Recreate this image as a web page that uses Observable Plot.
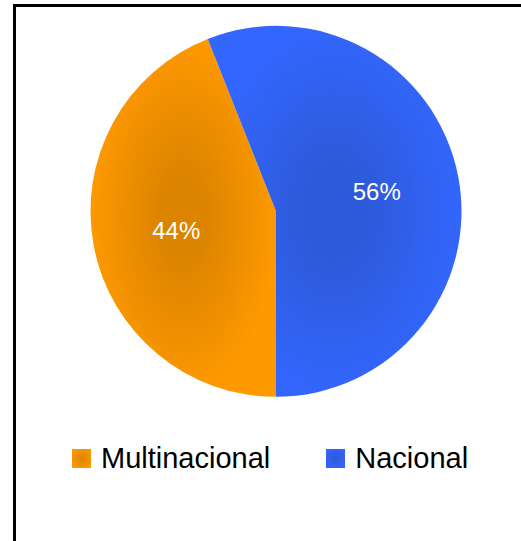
<!DOCTYPE html>
<html>
<head>
<meta charset="utf-8">
<script src="https://cdn.jsdelivr.net/npm/d3@7"></script>
<script src="https://cdn.jsdelivr.net/npm/@observablehq/plot@0.6"></script>
<style>
  html, body { margin: 0; padding: 0; background: #fff; }
  #wrap { position: relative; width: 521px; height: 541px; overflow: hidden; background: #fff; }
  #frame { position: absolute; left: 13px; top: 4px; width: 700px; height: 700px; border: 3px solid #000; box-sizing: border-box; }
  #chart { position: absolute; left: 0; top: 0; }
  #legend { position: absolute; left: 72px; top: 444px; display: flex; align-items: flex-start;
            font-family: "Liberation Sans", Arial, sans-serif; font-size: 29px; line-height: 29px; color: #000; }
  .item { display: flex; align-items: flex-start; }
  .sw { width: 19px; height: 19px; margin-top: 5px; margin-right: 10px; }
</style>
</head>
<body>
<div id="wrap">
  <div id="frame"></div>
  <div id="chart"></div>
  <div id="legend"></div>
</div>
<script>
const categories = ["Multinacional", "Nacional"];
const values = [44, 56];
const labels = ["44%", "56%"];
const colors = ["#ff9900", "#3366ff"];
const centerColors = ["#dc8400", "#2d5ad8"];

const pie = d3.pie().sort(null).startAngle(Math.PI).endAngle(3 * Math.PI)(values);
const unitArc = d3.arc().innerRadius(0).outerRadius(1.1);
const table = categories.map((c, i) => {
  const [cx, cy] = unitArc.centroid(pie[i]);
  return {category: c, value: values[i], label: labels[i], x: cx, y: -cy, arc: pie[i], i};
});

function slices(index, scales) {
  const cx = scales.x(0), cy = scales.y(0), r = scales.x(1) - cx;
  const g = d3.create("svg:g");
  const defs = g.append("defs");
  table.forEach((d, i) => {
    const grad = defs.append("radialGradient").attr("id", "grad" + i)
      .attr("cx", 0.5).attr("cy", 0.5).attr("r", 0.6);
    grad.append("stop").attr("offset", "0%").attr("stop-color", centerColors[i]);
    grad.append("stop").attr("offset", "20%").attr("stop-color", centerColors[i]);
    grad.append("stop").attr("offset", "85%").attr("stop-color", colors[i]);
    grad.append("stop").attr("offset", "100%").attr("stop-color", colors[i]);
  });
  const arc = d3.arc().innerRadius(0).outerRadius(r);
  g.selectAll("path").data(table).join("path")
    .attr("transform", `translate(${cx},${cy})`)
    .attr("d", d => arc(d.arc))
    .attr("fill", d => `url(#grad${d.i})`);
  return g.node();
}

const plot = Plot.plot({
  width: 521,
  height: 420,
  margin: 0,
  style: "background:transparent;overflow:visible;",
  x: {domain: [-1, 1], range: [90.5, 461.5], axis: null},
  y: {domain: [-1, 1], range: [397, 25.7], axis: null},
  marks: [
    slices,
    Plot.text(table, {x: "x", y: "y", text: "label", fill: "#fff", fontSize: 24,
      fontFamily: "Liberation Sans, Arial, sans-serif", textAnchor: "middle", lineAnchor: "middle"})
  ]
});
document.getElementById("chart").appendChild(plot);

const legend = d3.select("#legend");
categories.forEach((c, i) => {
  const it = legend.append("div").attr("class", "item").style("margin-right", i === 0 ? "56px" : "0");
  it.append("div").attr("class", "sw")
    .style("background", `radial-gradient(circle, ${centerColors[i]} 0%, ${colors[i]} 90%)`);
  it.append("span").text(c);
});
</script>
</body>
</html>
